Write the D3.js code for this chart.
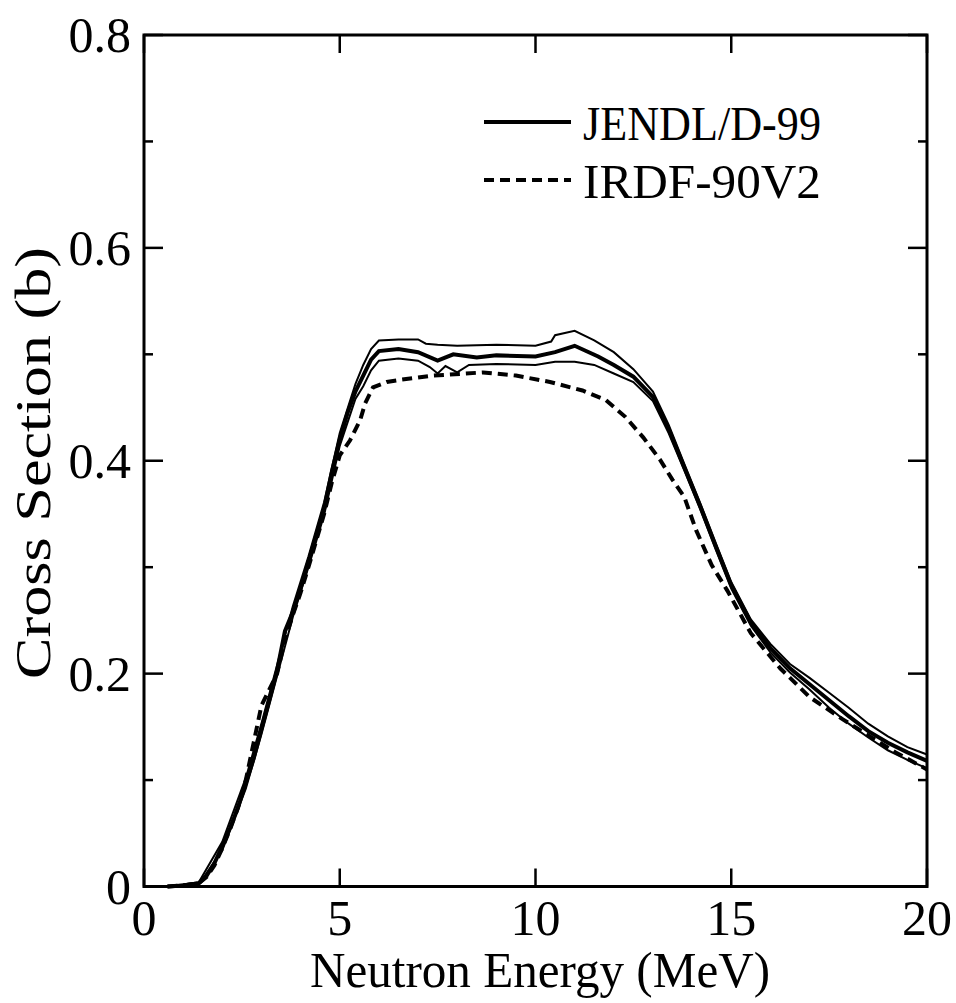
<!DOCTYPE html>
<html><head><meta charset="utf-8">
<script src="https://cdn.jsdelivr.net/npm/d3@7"></script>
<style>body{margin:0;background:#fff}svg{display:block}</style>
</head><body>
<svg id="c" width="956" height="1003"></svg>
<script>
// JENDL/D-99 central values
const jendlE = [0.6,1.0,1.4,1.6,1.8,2.0,2.2,2.4,2.6,2.8,3.0,3.2,3.4,3.6,3.8,4.0,4.2,4.4,4.6,4.8,5.0,5.2,5.4,5.6,5.8,6.0,6.5,7.0,7.5,7.9,8.5,9.0,10.0,10.5,11.0,11.6,12.0,12.5,13.0,13.4,13.8,14.2,14.6,15.0,15.5,16.0,16.5,17.0,17.5,18.0,18.5,19.0,19.5,20.0];
const jendlS = [0,0.001,0.003,0.01,0.022,0.038,0.055,0.074,0.097,0.12,0.148,0.175,0.203,0.24,0.258,0.28,0.305,0.33,0.355,0.39,0.42,0.445,0.465,0.48,0.495,0.503,0.505,0.502,0.494,0.5,0.497,0.499,0.498,0.502,0.508,0.498,0.49,0.479,0.46,0.43,0.394,0.358,0.32,0.283,0.248,0.224,0.205,0.19,0.175,0.16,0.146,0.135,0.126,0.118];
// JENDL/D-99 upper uncertainty bound
const upperE = [0.6,1.4,2.0,2.6,3.0,3.4,3.8,4.2,4.6,5.0,5.4,5.6,5.8,6.0,6.5,7.0,7.2,7.5,8.0,9.0,10.0,10.4,10.5,11.0,11.5,12.0,12.5,13.0,13.4,13.8,14.2,14.6,15.0,15.5,16.0,16.5,17.0,17.5,18.0,18.5,19.0,19.5,20.0];
const upperS = [0,0.004,0.042,0.102,0.153,0.208,0.263,0.31,0.361,0.426,0.472,0.49,0.505,0.513,0.514,0.514,0.51,0.509,0.508,0.509,0.508,0.512,0.518,0.522,0.513,0.502,0.486,0.465,0.434,0.397,0.361,0.323,0.286,0.251,0.228,0.209,0.196,0.182,0.168,0.153,0.141,0.131,0.124];
// JENDL/D-99 lower uncertainty bound
const lowerE = [0.6,1.4,2.0,2.6,3.0,3.4,3.8,4.2,4.6,5.0,5.4,5.6,5.8,6.0,6.5,7.0,7.3,7.5,7.7,8.0,8.3,9.0,10.0,10.5,11.0,11.5,12.0,12.5,13.0,13.4,13.8,14.2,14.6,15.0,15.5,16.0,16.5,17.0,17.5,18.0,18.5,19.0,19.5,20.0];
const lowerS = [0,0.002,0.034,0.092,0.143,0.198,0.253,0.3,0.349,0.414,0.458,0.47,0.485,0.494,0.496,0.494,0.488,0.482,0.489,0.483,0.49,0.491,0.49,0.493,0.493,0.49,0.482,0.474,0.456,0.426,0.391,0.355,0.317,0.28,0.245,0.22,0.201,0.185,0.168,0.153,0.14,0.128,0.119,0.111];
// IRDF-90V2
const irdfE = [0.6,1.0,1.4,1.6,1.8,2.0,2.2,2.4,2.6,2.8,3.0,3.2,3.4,3.6,3.8,4.0,4.2,4.4,4.6,4.8,5.0,5.26,5.52,5.65,5.85,6.2,6.54,7.4,8.66,9.5,10.37,11.2,11.8,12.3,12.75,13.18,13.5,13.8,14.1,14.5,14.9,15.5,16.25,17.0,17.85,18.5,19.2,20.0];
const irdfS = [0,0.001,0.003,0.009,0.02,0.036,0.054,0.074,0.1,0.135,0.17,0.185,0.2,0.232,0.255,0.276,0.3,0.325,0.35,0.38,0.405,0.419,0.438,0.454,0.469,0.474,0.476,0.48,0.483,0.48,0.474,0.466,0.457,0.441,0.422,0.401,0.382,0.366,0.335,0.302,0.278,0.238,0.205,0.178,0.157,0.142,0.126,0.11];

const xTicks = [0,5,10,15,20];
const yTicks = [0,0.2,0.4,0.6,0.8];
const yMinor = [0.1,0.3,0.5,0.7];
const legendLabels = ["JENDL/D-99","IRDF-90V2"];

const FONT = '"Liberation Serif","Times New Roman",serif';
const svg = d3.select("#c");
const L=144, R=927, T=35, B=886.5;
const x = d3.scaleLinear().domain([0,20]).range([L,R]);
const y = d3.scaleLinear().domain([0,0.8]).range([B,T]);

const line = d3.line().x(d=>x(d[0])).y(d=>y(d[1]));
const zip=(a,b)=>a.map((v,i)=>[v,b[i]]);

const plot = svg.append("g");
plot.append("path").attr("d",line(zip(upperE,upperS))).attr("fill","none").attr("stroke","#000").attr("stroke-width",2);
plot.append("path").attr("d",line(zip(lowerE,lowerS))).attr("fill","none").attr("stroke","#000").attr("stroke-width",2);
plot.append("path").attr("d",line(zip(irdfE,irdfS))).attr("fill","none").attr("stroke","#000").attr("stroke-width",4).attr("stroke-dasharray","10,6");
plot.append("path").attr("d",line(zip(jendlE,jendlS))).attr("fill","none").attr("stroke","#000").attr("stroke-width",4);

// frame
svg.append("rect").attr("x",L).attr("y",T).attr("width",R-L).attr("height",B-T).attr("fill","none").attr("stroke","#000").attr("stroke-width",3);

// ticks (inward)
const ax = svg.append("g").attr("stroke","#000").attr("stroke-width",2.5);
xTicks.forEach(t=>{
  ax.append("line").attr("x1",x(t)).attr("x2",x(t)).attr("y1",B).attr("y2",B-18);
  ax.append("line").attr("x1",x(t)).attr("x2",x(t)).attr("y1",T).attr("y2",T+18);
});
yTicks.forEach(t=>{
  ax.append("line").attr("x1",L).attr("x2",L+19).attr("y1",y(t)).attr("y2",y(t));
  ax.append("line").attr("x1",R).attr("x2",R-19).attr("y1",y(t)).attr("y2",y(t));
});
yMinor.forEach(t=>{
  ax.append("line").attr("x1",L).attr("x2",L+9).attr("y1",y(t)).attr("y2",y(t));
  ax.append("line").attr("x1",R).attr("x2",R-9).attr("y1",y(t)).attr("y2",y(t));
});

const fmtY = d=> d===0 ? "0" : d3.format(".1f")(d);
svg.append("g").selectAll("text").data(xTicks).join("text")
  .attr("x",d=>x(d)).attr("y",935).attr("text-anchor","middle")
  .style("font-family",FONT).attr("font-size",50).text(d=>d);
svg.append("g").selectAll("text").data(yTicks).join("text")
  .attr("x",131).attr("y",d=>y(d)+17).attr("text-anchor","end")
  .style("font-family",FONT).attr("font-size",50).text(fmtY);

svg.append("text").attr("x",540).attr("y",987).attr("text-anchor","middle")
  .style("font-family",FONT).attr("font-size",50)
  .attr("textLength",460).attr("lengthAdjust","spacingAndGlyphs").text("Neutron Energy (MeV)");
svg.append("text").attr("transform","translate(50,463) rotate(-90)").attr("text-anchor","middle")
  .style("font-family",FONT).attr("font-size",50)
  .attr("textLength",432).attr("lengthAdjust","spacingAndGlyphs").text("Cross Section (b)");

// legend
const lg = svg.append("g");
const legY=[122,180];
lg.append("line").attr("x1",484).attr("x2",571).attr("y1",legY[0]).attr("y2",legY[0]).attr("stroke","#000").attr("stroke-width",4);
lg.append("line").attr("x1",484).attr("x2",571).attr("y1",legY[1]).attr("y2",legY[1]).attr("stroke","#000").attr("stroke-width",4).attr("stroke-dasharray","10,6");
legendLabels.forEach((s,i)=>{
  lg.append("text").attr("x",583).attr("y",legY[i]+18).style("font-family",FONT).attr("font-size",48)
    .attr("textLength",238).attr("lengthAdjust","spacingAndGlyphs").text(s);
});
</script>
</body></html>
